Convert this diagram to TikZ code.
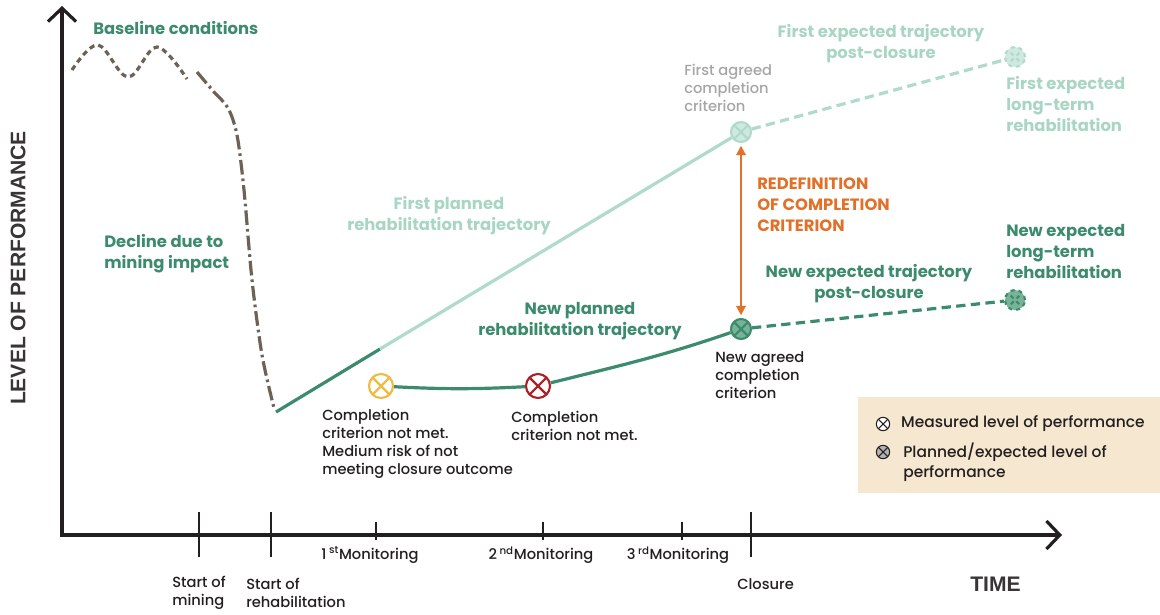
\documentclass[tikz,border=0pt]{standalone}
\usepackage{fontspec}
\setmainfont{Poppins}
\newfontfamily\labelfont{Poppins Medium}
\newfontfamily\axisfont{Liberation Sans}
\usetikzlibrary{arrows.meta, positioning}
\definecolor{axisblack}{RGB}{35,31,32}
\definecolor{mossgreen}{RGB}{61,139,109}
\definecolor{palegreen}{RGB}{176,218,203}
\definecolor{palegreentext}{RGB}{168,214,194}
\definecolor{midgreen}{RGB}{120,178,152}
\definecolor{greytext}{RGB}{165,165,165}
\definecolor{redefineorange}{RGB}{226,112,40}
\definecolor{impactbrown}{RGB}{110,98,86}
\definecolor{warnyellow}{RGB}{240,186,64}
\definecolor{failred}{RGB}{168,33,40}
\definecolor{legendbeige}{RGB}{246,232,208}

\begin{document}
\begin{tikzpicture}[x=0.75pt, y=-0.75pt,
        axis/.style={line width=2.4pt, draw=axisblack},
        tickmark/.style={line width=1.1pt, draw=axisblack},
        greenlabel/.style={font=\bfseries\fontsize{12.3}{15.75}\selectfont, inner sep=0, align=left, text=mossgreen},
        blacklabel/.style={font=\labelfont\fontsize{11}{13.5}\selectfont, inner sep=0, align=left, text=axisblack},
        axislabel/.style={font=\axisfont\bfseries\fontsize{15.8}{18}\selectfont, inner sep=0, text=axisblack!90},
        trajectory/.style={line width=2.4pt, draw=#1},
        marker/.style 2 args={circle, draw=#1, fill=#2, line width=1.6pt, minimum size=17pt, inner sep=0,
            path picture={\draw[#1, line width=1.6pt] (path picture bounding box.north west) -- (path picture bounding box.south east)
                (path picture bounding box.north east) -- (path picture bounding box.south west);}},
        legendmark/.style={circle, draw=axisblack, fill=#1, line width=0.8pt, minimum size=10pt, inner sep=0,
            path picture={\draw[axisblack, line width=0.8pt] (path picture bounding box.north west) -- (path picture bounding box.south east)
                (path picture bounding box.north east) -- (path picture bounding box.south west);}}
    ]
    \useasboundingbox (0,0) rectangle (1160,614);

    % legend background
    \fill[legendbeige] (858,397) rectangle (1160,493);

    % axes
    \coordinate (ytop) at (62,6);
    \coordinate (origin) at (62,535);
    \coordinate (xend) at (1062,535);
    \draw[axis, {Straight Barb[length=10pt,width=21pt]}-{Straight Barb[length=10pt,width=21pt]}] (ytop) -- (origin) -- (xend);
    \foreach \x in {199,271,751}
        \draw[tickmark] (\x,512) -- (\x,557);
    \foreach \x in {376,543,682}
        \draw[tickmark] (\x,522) -- (\x,540);

    % baseline and decline
    \draw[impactbrown, line width=2.4pt, dash pattern=on 4pt off 3pt]
        plot[smooth, tension=0.6] coordinates {(72,70) (98,45) (128,77) (157,47) (187,79)};
    \draw[impactbrown, line width=2.4pt, dash pattern=on 11pt off 3pt on 2pt off 3pt]
        plot[smooth, tension=0.5] coordinates {(197,72) (214,92) (228,108) (237,135) (244,190) (252,280) (262,355) (274,408)};

    % markers
    \coordinate (rehab) at (276,412);
    \coordinate (split) at (380,349);
    \node[marker={warnyellow}{white}, minimum size=18pt] (mon1) at (381,386) {};
    \node[marker={failred}{white}, minimum size=18pt] (mon2) at (538,386) {};
    \node[marker={palegreen}{palegreen!60}, minimum size=15pt] (firstagreed) at (741,132) {};
    \node[marker={mossgreen}{midgreen}, minimum size=15pt] (newagreed) at (741,329) {};
    \node[marker={palegreen}{palegreen!60}, minimum size=15pt, dashed] (firstlong) at (1015,57) {};
    \node[marker={mossgreen}{midgreen}, minimum size=15pt, dashed] (newlong) at (1015,300) {};

    % trajectories
    \draw[trajectory=mossgreen] (rehab) -- (split);
    \draw[trajectory=palegreen] (split) -- (firstagreed);
    \draw[trajectory=mossgreen] (mon1) to[out=-3, in=183] (mon2);
    \draw[trajectory=mossgreen] (mon2) to[out=14, in=199] (newagreed);
    \draw[trajectory=palegreen, dash pattern=on 7pt off 4pt] (firstagreed) -- (firstlong);
    \draw[trajectory=mossgreen, dash pattern=on 7pt off 4pt] (newagreed) -- (newlong);
    \draw[redefineorange, line width=1.6pt, {Triangle[length=7pt,width=7pt]}-{Triangle[length=7pt,width=7pt]}, shorten <=2pt, shorten >=2pt] (firstagreed) -- (newagreed);

    % labels
    \node[greenlabel, anchor=west] (baseline) at (93,28) {Baseline conditions};
    \node[greenlabel, anchor=west] (decline) at (104,254) {Decline due to\\mining impact};
    \node[greenlabel, text=palegreentext, align=center] (firstplanned) at (449,216) {First planned\\rehabilitation trajectory};
    \node[greenlabel, align=center] (newplanned) at (580,321) {New planned\\rehabilitation trajectory};
    \node[blacklabel, text=greytext, anchor=west] (firstagreedlabel) at (684,88) {First agreed\\completion\\criterion};
    \node[greenlabel, text=palegreentext, align=center] (firstpost) at (881,44) {First expected trajectory\\post-closure};
    \node[greenlabel, text=palegreentext, anchor=west] (firstlonglabel) at (1006,104) {First expected\\long-term\\rehabilitation};
    \node[greenlabel, text=redefineorange, anchor=west] (redefinition) at (757,205) {REDEFINITION\\OF COMPLETION\\CRITERION};
    \node[greenlabel, anchor=west] (newlonglabel) at (1006,251) {New expected\\long-term\\rehabilitation};
    \node[greenlabel, align=center] (newpost) at (869,284) {New expected trajectory\\post-closure};
    \node[blacklabel, anchor=west] (newagreedlabel) at (715,375) {New agreed\\completion\\criterion};
    \node[blacklabel, anchor=west] (mon1label) at (322,444) {Completion\\criterion not met.\\Medium risk of not\\meeting closure outcome};
    \node[blacklabel, anchor=west] (mon2label) at (511,426) {Completion\\criterion not met.};

    % legend
    \node[legendmark=white] (legmeasured) at (883,424) {};
    \node[legendmark=gray!60] (legplanned) at (883,452) {};
    \node[blacklabel, font=\labelfont\fontsize{11.6}{15}\selectfont, anchor=west, right=8pt of legmeasured] {Measured level of performance};
    \node[blacklabel, font=\labelfont\fontsize{11.6}{15}\selectfont, anchor=north west] at (903,443) {Planned/expected level of\\performance};

    % axis labels
    \node[blacklabel] (monitor1) at (370,555) {1\,\textsuperscript{st}Monitoring};
    \node[blacklabel] (monitor2) at (541,555) {2\,\textsuperscript{nd}Monitoring};
    \node[blacklabel] (monitor3) at (678,555) {3\,\textsuperscript{rd}Monitoring};
    \node[blacklabel, anchor=west] (startmining) at (172,593) {Start of\\mining};
    \node[blacklabel, anchor=west] (startrehab) at (246,593) {Start of\\rehabilitation};
    \node[blacklabel, anchor=west] (closure) at (737,584) {Closure};
    \node[axislabel, anchor=west] (time) at (970,584) {TIME};
    \node[axislabel, rotate=90] (level) at (18,268) {LEVEL OF PERFORMANCE};
\end{tikzpicture}
\end{document}
